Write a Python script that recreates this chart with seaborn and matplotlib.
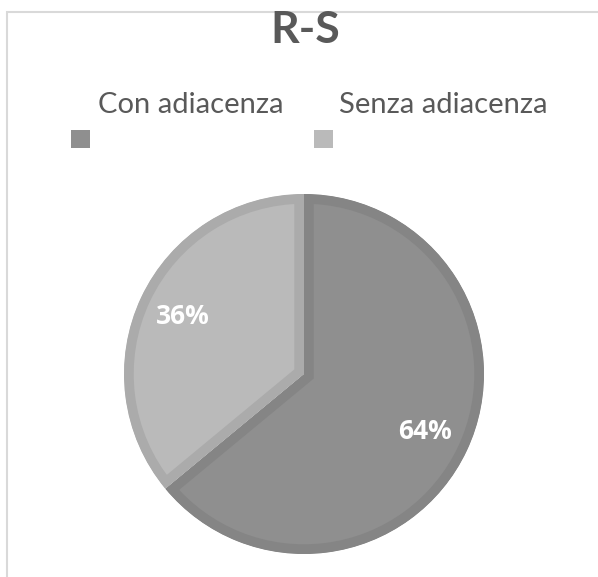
import matplotlib
matplotlib.use("Agg")
import matplotlib.pyplot as plt
import seaborn as sns
from matplotlib.patches import Rectangle

# Data
labels = ['Con adiacenza', 'Senza adiacenza']
values = [64, 36]
title = 'R-S'

fill_colors = ['#8f8f8f', '#bababa']
rim_colors = ['#858585', '#ababab']

sns.set_theme(style='white')
plt.rcParams['font.family'] = ['Lato', 'DejaVu Sans']

fig = plt.figure(figsize=(5.98, 5.77), dpi=100)
W, H = 598, 577

# chart frame (Excel-like)
fig.patches.append(Rectangle((7 / W, -0.1), 1.2, (H - 12) / H + 0.1,
                             transform=fig.transFigure, fill=False,
                             edgecolor='#d9d9d9', linewidth=1.5))

# pie axes: centre ~ (304, 374) px, radius ~180 px
cx, cy, r = 304, 374, 180
ax = fig.add_axes([(cx - r) / W, (H - cy - r) / H, 2 * r / W, 2 * r / H])
wedges, texts, autotexts = ax.pie(
    values, colors=fill_colors, startangle=90, counterclock=False,
    autopct='%1.0f%%', pctdistance=0.745, radius=1,
    textprops=dict(color='white', fontsize=19, fontweight='bold',
                   family=['Open Sans', 'DejaVu Sans']))
# inner rim: double-width edge clipped to the wedge itself
# (pie turns clipping off for its wedges, so switch it back on)
for w, rc in zip(wedges, rim_colors):
    w.set_edgecolor(rc)
    w.set_linewidth(14)
    w.set_clip_path(w)
    w.set_clip_on(True)
ax.set_xlim(-1, 1)
ax.set_ylim(-1, 1)
ax.set_aspect('equal')
ax.axis('off')

# title
fig.text(305 / W, 1 - 43 / H, title, ha='center', va='baseline',
         fontsize=32, fontweight='bold', color='#595959')

# legend: label above square marker
leg_text_x = [98, 339]
leg_sq_x = [71, 314]
for lab, tx, sx, col in zip(labels, leg_text_x, leg_sq_x, fill_colors):
    fig.text(tx / W, 1 - 113 / H, lab, ha='left', va='baseline',
             fontsize=21, color='#595959')
    fig.patches.append(Rectangle((sx / W, 1 - 148 / H), 19 / W, 18 / H,
                                 transform=fig.transFigure,
                                 facecolor=col, edgecolor='none'))

fig.savefig('out.png', dpi=100)
